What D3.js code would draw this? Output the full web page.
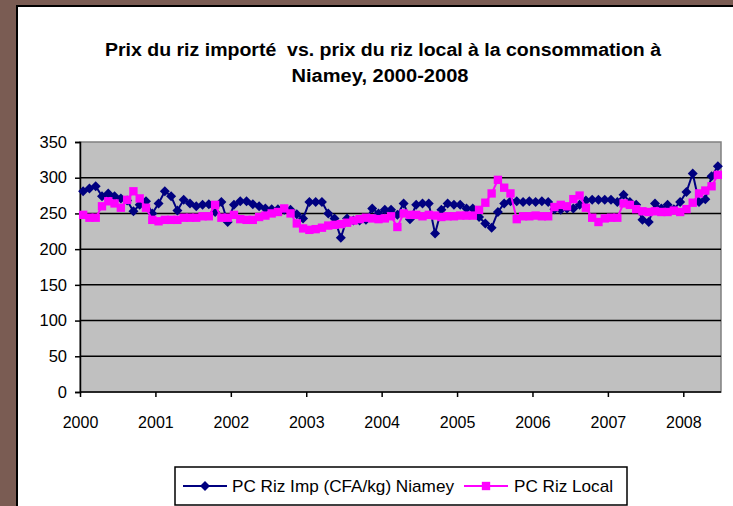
<!DOCTYPE html>
<html>
<head>
<meta charset="utf-8">
<script src="https://cdn.jsdelivr.net/npm/d3@7"></script>
<style>
  html, body { margin: 0; padding: 0; background: #7a5c53; }
  svg { display: block; font-family: "Liberation Sans", Arial, sans-serif; }
</style>
</head>
<body>
<svg id="chart" width="733" height="506"></svg>
<script>
// monthly prices, Jan 2000 - Jun 2008 (CFA/kg)
const yearLabels = ["2000", "2001", "2002", "2003", "2004", "2005", "2006", "2007", "2008"];
const yTicks = [0, 50, 100, 150, 200, 250, 300, 350];

const rizImp = [
  281, 285, 288, 274, 278, 274, 271, 268, 253, 262, 267, 250,
  264, 281, 274, 254, 269, 264, 260, 262, 263, 252, 266, 238,
  262, 267, 267, 263, 260, 257, 256, 256, 255, 255, 249, 243,
  266, 266, 266, 250, 243, 216, 243, 240, 240, 241, 257, 250,
  255, 255, 248, 264, 242, 262, 264, 264, 222, 255, 264, 262,
  262, 257, 257, 245, 236, 230, 252, 264, 267, 267, 266, 267,
  266, 267, 266, 256, 255, 257, 257, 262, 268, 269, 269, 269,
  269, 266, 276, 266, 262, 241, 238, 264, 257, 262, 256, 266,
  280, 306, 266, 270, 302, 316
];
const rizLocal = [
  248, 244, 244, 260, 267, 264, 258, 269, 281, 271, 258, 241,
  239, 241, 241, 241, 244, 244, 244, 246, 246, 262, 244, 244,
  248, 242, 241, 241, 245, 247, 250, 252, 257, 250, 236, 229,
  227, 228, 230, 233, 234, 235, 237, 240, 242, 244, 243, 242,
  243, 246, 231, 250, 248, 248, 246, 248, 247, 245, 246, 246,
  247, 247, 247, 255, 265, 278, 297, 286, 278, 242, 246, 246,
  247, 246, 246, 259, 262, 260, 270, 275, 258, 244, 238, 243,
  244, 244, 264, 262, 256, 253, 252, 253, 252, 252, 254, 252,
  256, 265, 278, 282, 288, 304
];
const seriesNames = ["PC Riz Imp (CFA/kg) Niamey", "PC Riz Local"];
const seriesColors = ["#000080", "#ff00ff"];

const svg = d3.select("#chart");

// white chart panel with black frame
svg.append("rect").attr("x", 0).attr("y", 0).attr("width", 733).attr("height", 506).attr("fill", "#7a5c53");
svg.append("rect")
  .attr("x", 17).attr("y", 6).attr("width", 730).attr("height", 520)
  .attr("fill", "#fff").attr("stroke", "#000").attr("stroke-width", 2);

// title (stretched a little to match the narrow Excel rendering)
const title = svg.append("text")
  .attr("text-anchor", "middle")
  .attr("font-weight", "bold")
  .attr("font-size", 18)
  .attr("fill", "#000")
  .style("white-space", "pre");
title.append("tspan").attr("x", 383).attr("y", 56)
  .attr("textLength", 556).attr("lengthAdjust", "spacingAndGlyphs")
  .text("Prix du riz importé  vs. prix du riz local à la consommation à");
title.append("tspan").attr("x", 380).attr("y", 82)
  .attr("textLength", 177).attr("lengthAdjust", "spacingAndGlyphs")
  .text("Niamey, 2000-2008");

const plot = { left: 80, right: 721, top: 142, bottom: 392 };
const n = rizImp.length;

const x = d3.scaleLinear().domain([0, n]).range([plot.left, plot.right]);
const y = d3.scaleLinear().domain([0, 350]).range([plot.bottom, plot.top]);

// plot background
svg.append("rect")
  .attr("x", plot.left).attr("y", plot.top)
  .attr("width", plot.right - plot.left).attr("height", plot.bottom - plot.top)
  .attr("fill", "#c0c0c0").attr("stroke", "#808080").attr("stroke-width", 1.5);

// gridlines
svg.append("g")
  .selectAll("line")
  .data(yTicks.filter(v => v > 0 && v < 350))
  .join("line")
  .attr("x1", plot.left).attr("x2", plot.right)
  .attr("y1", d => y(d)).attr("y2", d => y(d))
  .attr("stroke", "#000").attr("stroke-width", 1.5);

// y axis
const yAxis = svg.append("g")
  .attr("transform", `translate(${plot.left},0)`)
  .call(d3.axisLeft(y).tickValues(yTicks).tickSize(5).tickPadding(8));
yAxis.select(".domain").attr("stroke", "#000").attr("stroke-width", 1.5);
yAxis.selectAll(".tick line").attr("stroke", "#000").attr("stroke-width", 1.5);
yAxis.selectAll(".tick text").attr("font-size", 16.5).attr("fill", "#000")
  .attr("font-family", "Liberation Sans, Arial, sans-serif");

// x axis: a tick every 12 months, labelled with the year
const xAxis = svg.append("g")
  .attr("transform", `translate(0,${plot.bottom})`)
  .call(d3.axisBottom(x)
    .tickValues(yearLabels.map((d, i) => i * 12))
    .tickFormat((d, i) => yearLabels[i])
    .tickSize(5).tickPadding(20));
xAxis.select(".domain").attr("stroke", "#000").attr("stroke-width", 1.5).attr("d", `M${plot.left},0H${plot.right}`);
xAxis.selectAll(".tick line").attr("stroke", "#000").attr("stroke-width", 1.5);
xAxis.selectAll(".tick text").attr("font-size", 16).attr("fill", "#000")
  .attr("font-family", "Liberation Sans, Arial, sans-serif");

// series
const line = d3.line()
  .x((d, i) => x(i + 0.5))
  .y(d => y(d));

const diamond = d3.symbol(d3.symbolSquare, 50);
const square = d3.symbol(d3.symbolSquare, 70);

[rizImp, rizLocal].forEach((vals, k) => {
  const g = svg.append("g");
  g.append("path")
    .datum(vals)
    .attr("d", line)
    .attr("fill", "none")
    .attr("stroke", seriesColors[k])
    .attr("stroke-width", 2);
  g.selectAll("path.mark")
    .data(vals)
    .join("path")
    .attr("class", "mark")
    .attr("d", k === 0 ? diamond : square)
    .attr("transform", (d, i) => `translate(${x(i + 0.5)},${y(d)})` + (k === 0 ? " rotate(45)" : ""))
    .attr("fill", seriesColors[k]);
});

// legend
const legend = svg.append("g");
legend.append("rect")
  .attr("x", 175).attr("y", 467).attr("width", 452).attr("height", 38)
  .attr("fill", "#fff").attr("stroke", "#000").attr("stroke-width", 1.5);
const legendItems = [
  { x: 183, textX: 232, w: 222 },
  { x: 464, textX: 514, w: 99 }
];
legendItems.forEach((it, k) => {
  legend.append("line")
    .attr("x1", it.x).attr("x2", it.x + 44)
    .attr("y1", 486).attr("y2", 486)
    .attr("stroke", seriesColors[k]).attr("stroke-width", 2);
  legend.append("path")
    .attr("d", k === 0 ? diamond : square)
    .attr("transform", `translate(${it.x + 22},486)` + (k === 0 ? " rotate(45)" : ""))
    .attr("fill", seriesColors[k]);
  legend.append("text")
    .attr("x", it.textX).attr("y", 492)
    .attr("font-size", 17)
    .attr("fill", "#000")
    .attr("textLength", it.w)
    .attr("lengthAdjust", "spacingAndGlyphs")
    .text(seriesNames[k]);
});
</script>
</body>
</html>
